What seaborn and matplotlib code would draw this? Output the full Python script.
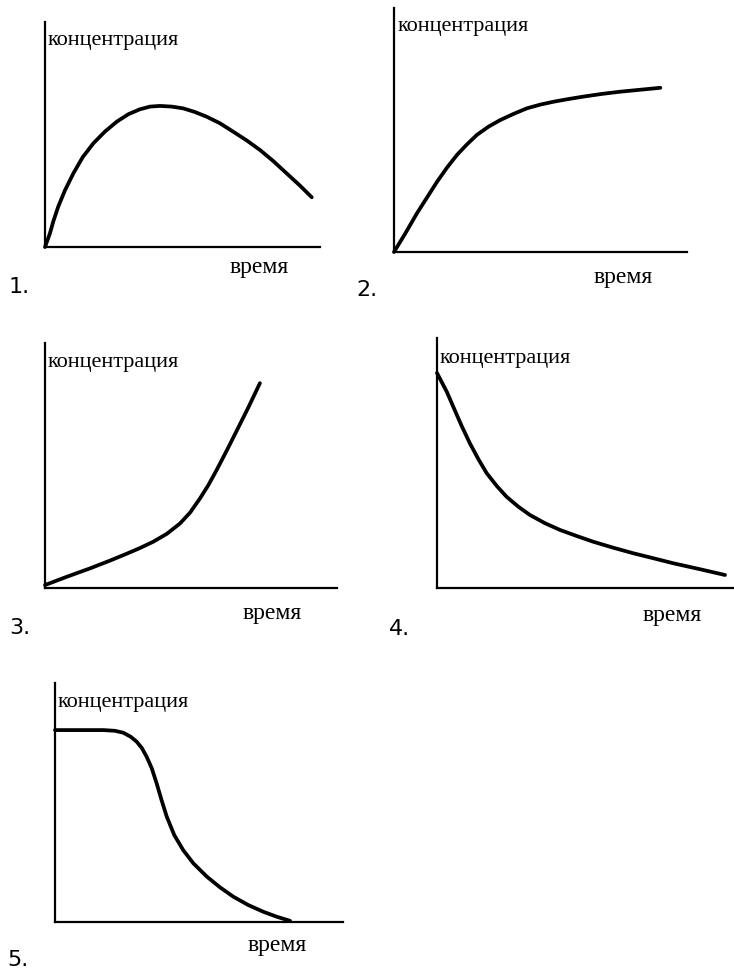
import seaborn as sns
import matplotlib.pyplot as plt

# curves (time 0-100, concentration 0-100 of each panel)
t1 = [0, 1.8, 3.0, 4.8, 7.3, 10.3, 13.7, 17.6, 21.8, 26.1, 30.3, 34.5, 38.2, 41.8,
      46.1, 50.3, 54.5, 58.8, 63.6, 68.5, 73.3, 78.2, 83.0, 87.9, 92.7, 97.0]
c1 = [0, 6.1, 11.3, 17.9, 25.3, 32.7, 39.9, 46.1, 51.3, 55.7, 59.0, 61.2, 62.4, 62.7,
      62.4, 61.6, 60.0, 57.9, 55.0, 51.2, 47.4, 43.1, 38.2, 32.7, 27.3, 22.1]

t2 = [0, 3.9, 7.8, 11.3, 14.7, 18.1, 21.5, 24.9, 28.3, 32.3, 36.3, 40.8, 45.4,
      49.9, 54.5, 59.6, 64.7, 71.0, 77.2, 84.1, 90.9]
c2 = [0, 7.7, 15.8, 22.4, 28.8, 34.6, 39.8, 44.1, 48.0, 51.4, 54.1, 56.6, 58.9,
      60.4, 61.6, 62.7, 63.7, 64.8, 65.7, 66.5, 67.3]

t3 = [0, 7.5, 15.4, 22.3, 28.0, 32.5, 37.1, 41.7, 46.2, 49.7, 53.1, 55.9, 58.8,
      62.2, 65.7, 69.6, 73.6]
c3 = [1.2, 4.6, 8.0, 11.2, 14.0, 16.3, 18.9, 22.1, 26.3, 30.8, 36.6, 41.9, 48.2,
      56.0, 64.3, 73.6, 83.6]

t4 = [0, 3.3, 5.5, 8.3, 11.1, 14.0, 16.8, 20.2, 23.5, 27.5, 31.4, 36.5, 41.6,
      47.2, 52.8, 59.6, 66.3, 73.1, 79.8, 88.9, 97.3]
c4 = [86, 78.5, 72.5, 64.9, 57.9, 51.5, 45.9, 40.8, 36.5, 32.5, 29.2, 25.9, 23.2,
      20.8, 18.5, 16.1, 13.9, 11.9, 9.9, 7.5, 5.2]

t5 = [0, 8.7, 16.8, 20.8, 23.7, 26.3, 28.4, 30.2, 31.8, 33.6, 35.3, 37.0, 38.8,
      41.4, 44.5, 48.0, 52.7, 57.3, 61.9, 67.1, 72.3, 77.0, 81.6]
c5 = [80.3, 80.3, 80.3, 80.0, 79.2, 77.5, 75.4, 72.7, 69.2, 64.3, 58.0, 51.0, 44.1,
      36.4, 30.1, 24.6, 19.0, 14.5, 10.6, 7.1, 4.3, 2.2, 0.5]

numbers = ["1.", "2.", "3.", "4.", "5."]
ylabel = "концентрация"
xlabel = "время"

sns.set_style("white")
W, H = 734, 976
fig = plt.figure(figsize=(W / 100, H / 100), dpi=100)

# panel boxes in pixels: left, top, right, bottom
boxes = [(45, 22, 320, 247), (394, 8, 687, 252), (45, 343, 337, 588),
         (437, 338, 733, 588), (55, 683, 343, 922)]
# text spots in pixels: ylabel (x, y), xlabel (x, y), number (x, y)
spots = [((48, 40), (230, 268), (9, 287)),
         ((398, 27), (594, 277), (356, 290)),
         ((48, 363), (243, 613), (9, 628)),
         ((440, 358), (643, 615), (389, 629)),
         ((58, 703), (248, 945), (7, 960))]
curves = [(t1, c1), (t2, c2), (t3, c3), (t4, c4), (t5, c5)]

for (l, t, r, b), (ts, cs), sp, num in zip(boxes, curves, spots, numbers):
    ax = fig.add_axes([l / W, 1 - b / H, (r - l) / W, (b - t) / H])
    sns.lineplot(x=ts, y=cs, ax=ax, color="black", linewidth=2.7, clip_on=False)
    ax.set_xlim(0, 100)
    ax.set_ylim(0, 100)
    ax.set_xticks([])
    ax.set_yticks([])
    ax.patch.set_alpha(0)
    for side in ["top", "right"]:
        ax.spines[side].set_visible(False)
    for side in ["left", "bottom"]:
        ax.spines[side].set_color("black")
        ax.spines[side].set_linewidth(1.6)

    (yx, yy), (xx, xy), (nx, ny) = sp
    fig.text(yx / W, 1 - yy / H, ylabel, family="Liberation Serif", fontsize=16,
             color="black", ha="left", va="center")
    fig.text(xx / W, 1 - xy / H, xlabel, family="Liberation Serif", fontsize=17,
             color="black", ha="left", va="center")
    fig.text(nx / W, 1 - ny / H, num, family="DejaVu Sans", fontsize=16,
             color="black", ha="left", va="center")

fig.savefig("out.png", dpi=100)
